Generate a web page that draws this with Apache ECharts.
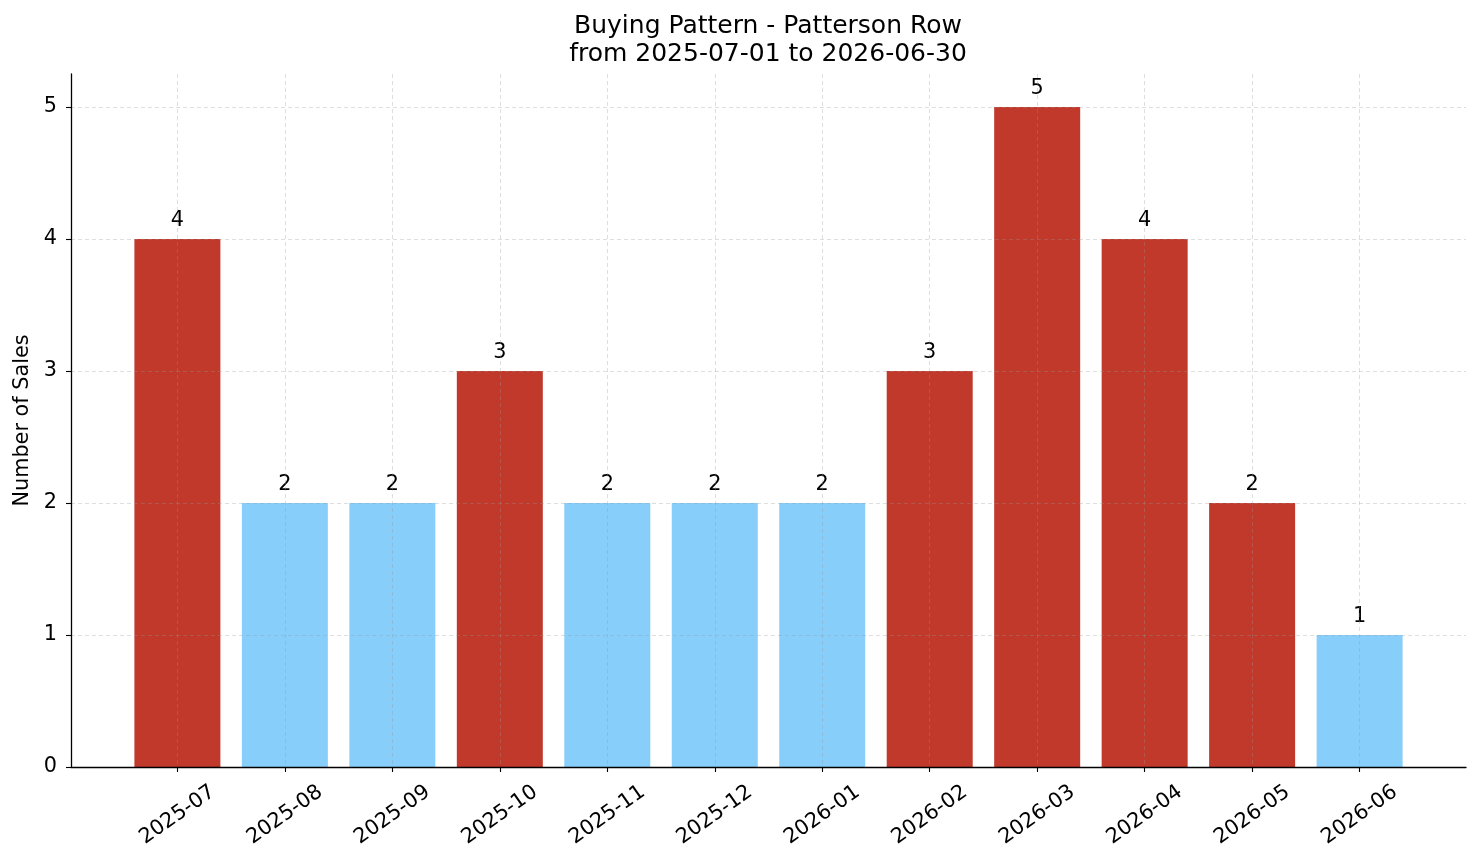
<!DOCTYPE html>
<html>
<head>
<meta charset="utf-8">
<title>Buying Pattern - Patterson Row</title>
<script src="https://cdn.jsdelivr.net/npm/echarts@6/dist/echarts.min.js"></script>
<style>
  html, body { margin: 0; padding: 0; background: #fff; }
  #chart { width: 1481px; height: 863px; }
</style>
</head>
<body>
<div id="chart"></div>
<script>
// months shown on the x axis
const months = ['2025-07', '2025-08', '2025-09', '2025-10', '2025-11', '2025-12',
  '2026-01', '2026-02', '2026-03', '2026-04', '2026-05', '2026-06']
// number of sales per month
const sales = [4, 2, 2, 3, 2, 2, 2, 3, 5, 4, 2, 1]
// months drawn in red in the original
const highlighted = [true, false, false, true, false, false, false, true, true, true, true, false]
const yTicks = [0, 1, 2, 3, 4, 5]

const RED = '#c0392b'
const BLUE = '#87cefa'
const FONT = 'DejaVu Sans'
const TICK_FONT = 20.8

const monthIdx = months.map((m, i) => i)

const chart = echarts.init(document.getElementById('chart'), null, { renderer: 'canvas' })

const gridLine = { show: true, lineStyle: { color: 'rgba(150,150,150,0.4)', type: [4, 3], width: 0.8 } }

chart.setOption({
  animation: false,
  backgroundColor: '#fff',
  textStyle: { fontFamily: FONT },
  title: {
    text: 'Buying Pattern - Patterson Row\nfrom 2025-07-01 to 2026-06-30',
    left: 763,
    top: 7,
    textAlign: 'center',
    textStyle: { fontFamily: FONT, fontSize: 25, fontWeight: 'normal', color: '#000', lineHeight: 28 }
  },
  grid: { left: 71, right: 15, top: 74, bottom: 96, containLabel: false },
  xAxis: {
    type: 'value',
    min: -0.99,
    max: 11.99,
    z: 3,
    axisLine: { show: true, onZero: false, lineStyle: { color: '#000', width: 1.3 } },
    axisTick: { show: true, customValues: monthIdx, length: 5, lineStyle: { color: '#000', width: 1.1 } },
    axisLabel: {
      customValues: monthIdx,
      formatter: v => months[Math.round(v)],
      rotate: 35,
      align: 'center',
      verticalAlign: 'middle',
      margin: 48,
      fontSize: TICK_FONT,
      color: '#000',
      fontFamily: FONT
    },
    splitLine: gridLine
  },
  yAxis: {
    type: 'value',
    min: 0,
    max: 5.25,
    z: 3,
    name: 'Number of Sales',
    nameLocation: 'middle',
    nameGap: 37,
    nameTextStyle: { fontSize: TICK_FONT, color: '#000', fontFamily: FONT },
    axisLine: { show: true, onZero: false, lineStyle: { color: '#000', width: 1.3 } },
    axisTick: { show: true, customValues: yTicks, length: 5, lineStyle: { color: '#000', width: 1.1 } },
    axisLabel: { customValues: yTicks, margin: 14, fontSize: TICK_FONT, color: '#000', fontFamily: FONT },
    splitLine: gridLine
  },
  series: [{
    type: 'bar',
    z: 2,
    barWidth: 86,
    data: sales.map((v, i) => ({
      value: [i, v],
      itemStyle: { color: highlighted[i] ? RED : BLUE }
    })),
    label: {
      show: true,
      position: 'top',
      distance: 8,
      formatter: p => p.value[1],
      fontSize: TICK_FONT,
      color: '#000',
      fontFamily: FONT
    }
  }]
})
</script>
</body>
</html>
